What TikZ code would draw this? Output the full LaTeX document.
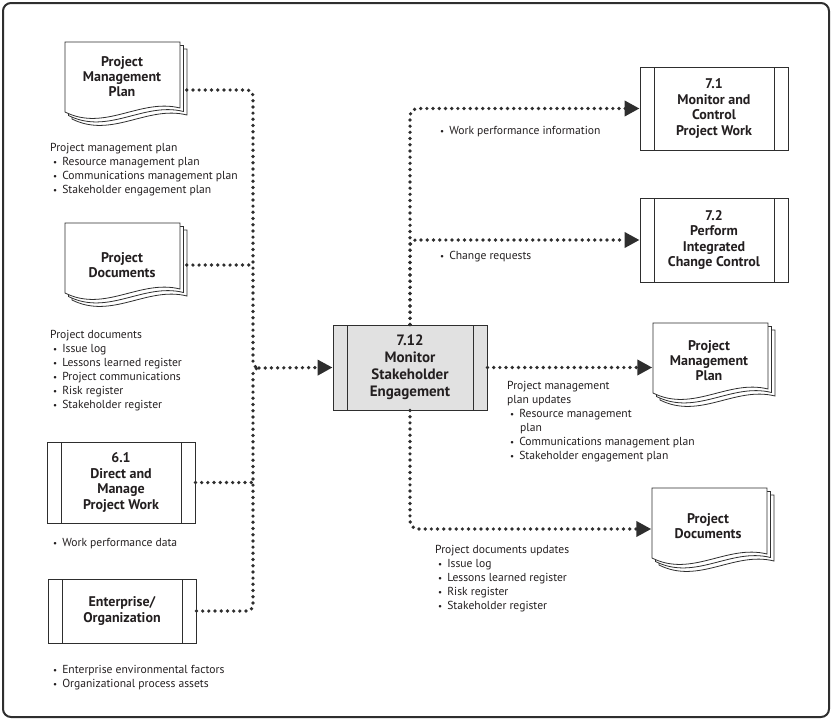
\documentclass[tikz,border=0pt]{standalone}
\usepackage{fontspec}
\setmainfont{PT Sans}
\usetikzlibrary{arrows.meta}
\definecolor{linegray}{HTML}{2E2E2E}
\definecolor{inkcolor}{HTML}{231F20}
\definecolor{processfill}{HTML}{E1E1E1}
\newcommand{\itm}{\hspace*{3pt}{\small\textbullet}\hspace{5pt}}
\newcommand{\docpages}[2]{%
  \foreach \off in {7,3.5,0}{%
    \filldraw[pageline] (#1+\off,#2+\off) -- (#1+\off+115,#2+\off)
      -- (#1+\off+115,#2+\off+66)
      .. controls (#1+\off+75,#2+\off+56) and (#1+\off+40,#2+\off+90) .. (#1+\off,#2+\off+70)
      -- cycle;}}

\tikzset{
  pageline/.style={draw=linegray, line width=0.8pt, fill=white},
  dotline/.style={draw=linegray, line width=3.7pt, line cap=round, dash pattern=on 0pt off 6.2pt},
  flowarrow/.style={-{Triangle[length=15pt,width=15pt]}},
  procbox/.style={draw=linegray, line width=0.9pt, fill=white, align=center,
    font=\fontsize{14}{15.5}\selectfont\bfseries, text=inkcolor, inner sep=0pt,
    minimum width=148pt,
    path picture={\draw[linegray, line width=0.8pt]
      ([xshift=14pt]path picture bounding box.north west) -- ([xshift=14pt]path picture bounding box.south west)
      ([xshift=-14pt]path picture bounding box.north east) -- ([xshift=-14pt]path picture bounding box.south east);}},
  doctext/.style={align=center, font=\fontsize{14}{15}\selectfont\bfseries, text=inkcolor,
    inner sep=0pt, minimum width=113pt},
  note/.style={anchor=north west, align=left, inner sep=0pt,
    font=\fontsize{11.6}{14}\selectfont, text=inkcolor}
}

\begin{document}
\begin{tikzpicture}[x=1pt, y=-1pt]
\useasboundingbox (0,0) rectangle (832,720);
\draw[linegray, line width=2pt, rounded corners=8pt] (3,3) rectangle (829,717);

% inputs
\docpages{65}{42}
\node[doctext] (pmpL) at (122,77) {Project\\Management\\Plan};
\node[note] (pmpLnote) at (50,143) {Project management plan\\
  \itm Resource management plan\\
  \itm Communications management plan\\
  \itm Stakeholder engagement plan};

\docpages{65}{223}
\node[doctext] (pdL) at (122,265) {Project\\Documents};
\node[note] (pdLnote) at (50,330) {Project documents\\
  \itm Issue log\\
  \itm Lessons learned register\\
  \itm Project communications\\
  \itm Risk register\\
  \itm Stakeholder register};

\node[procbox, minimum height=81pt] (dmpw) at (121,482.5) {6.1\\Direct and\\Manage\\Project Work};
\node[note] (dmpwnote) at (50,538) {\itm Work performance data};

\node[procbox, minimum height=64pt] (ent) at (122,611) {Enterprise/\\Organization};
\node[note] (entnote) at (50,665) {\itm Enterprise environmental factors\\
  \itm Organizational process assets};

% process
\node[procbox, fill=processfill, minimum width=154pt, minimum height=85pt,
  font=\fontsize{15}{17}\selectfont\bfseries] (mse) at (410,367.5)
  {7.12\\Monitor\\Stakeholder\\Engagement};

% outputs
\node[procbox, minimum height=83pt] (mcpw) at (714,108.5) {7.1\\Monitor and\\Control\\Project Work};
\node[procbox, minimum height=84pt] (picc) at (714,240) {7.2\\Perform\\Integrated\\Change Control};

\docpages{653}{323}
\node[doctext] (pmpR) at (709,361) {Project\\Management\\Plan};
\docpages{652}{488}
\node[doctext] (pdR) at (708,526) {Project\\Documents};

\node[note] (wpinote) at (437,126) {\itm Work performance information};
\node[note] (crnote) at (437,251) {\itm Change requests};
\node[note] (pmpRnote) at (507,381) {Project management\\plan updates\\
  \itm Resource management\\
  \hspace*{13pt}plan\\
  \itm Communications management plan\\
  \itm Stakeholder engagement plan};
\node[note] (pdRnote) at (435,545) {Project documents updates\\
  \itm Issue log\\
  \itm Lessons learned register\\
  \itm Risk register\\
  \itm Stakeholder register};

% connectors
\coordinate (bus) at (253,368);
\coordinate (merge) at (259,368);
\draw[dotline, rounded corners=6pt] ([shift={(8,13)}]pmpL.east) -| (bus) -- (merge);
\draw[dotline] ([shift={(8,0)}]pdL.east) -- (pdL.east -| bus);
\draw[dotline] (dmpw.east) -- (dmpw.east -| bus);
\draw[dotline, rounded corners=6pt] (ent.east) -| (bus) -- (merge);
\draw[dotline, flowarrow] (merge) -- (mse.west);

\draw[dotline, flowarrow, rounded corners=8pt] (mse.north) |- (mcpw.west);
\draw[dotline, flowarrow, rounded corners=6pt] (mse.north) |- (picc.west);
\draw[dotline, flowarrow] (mse.east) -- (mse.east -| pmpR.west);
\draw[dotline, flowarrow, rounded corners=8pt] (mse.south) |- ([shift={(0,3)}]pdR.west);
\end{tikzpicture}
\end{document}
